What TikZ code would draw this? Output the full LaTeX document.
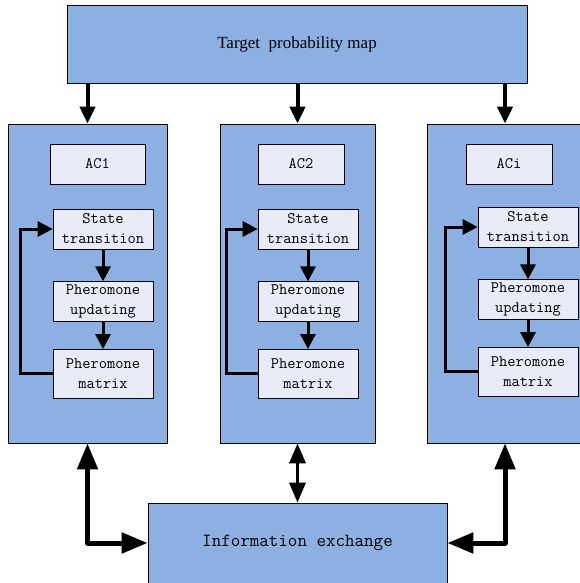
\documentclass[tikz,border=0pt]{standalone}
\usepackage{fontspec}
\setmainfont{Liberation Serif}
\usetikzlibrary{arrows.meta, positioning}

\definecolor{boxblue}{RGB}{141,176,227}
\definecolor{paleblue}{RGB}{231,236,248}

\begin{document}
\begin{tikzpicture}[
      x = 1pt, y = -1pt,           % one unit is one pixel of the layout
      line width = 0.7pt,
      node distance = 25pt         % distance between inner boxes
    ]

    \tikzstyle{Big}=[     % Defines style for the blue boxes
      draw, fill = boxblue,
      inner sep = 0pt
    ]

    \tikzstyle{Small}=[   % Defines style for the pale boxes
      draw, fill = paleblue,
      minimum width = 100pt, minimum height = 40pt,
      inner sep = 0pt, align = center,
      font = \ttfamily\fontsize{16}{20}\selectfont
    ]

    \tikzstyle{down}=[    % arrows from the map
      -{Triangle[length=17pt,width=15pt]}, line width = 4pt
    ]
    \tikzstyle{flow}=[    % arrows inside a column
      -{Triangle[length=15pt,width=15pt]}, line width = 3pt
    ]
    \tikzstyle{both}=[    % arrows to the exchange box
      {Triangle[length=26pt,width=20pt]}-{Triangle[length=26pt,width=20pt]},
      line width = 5pt
    ]

    \useasboundingbox (0,0) rectangle (580,583);

    % Definition of the nodes
    \node[Big, minimum width = 460pt, minimum height = 78pt,
      font = \fontsize{17}{20}\selectfont] (map) at (297,44)
      {\raisebox{-2pt}{Target\ \ probability map}};

    \node[Big, minimum width = 159pt, minimum height = 319pt] (col1) at (87.5,283.5) {};
    \node[Big, minimum width = 155pt, minimum height = 319pt] (col2) at (297.5,283.5) {};
    \node[Big, minimum width = 156pt, minimum height = 319pt] (col3) at (505,283.5) {};

    \node[Big, minimum width = 299pt, minimum height = 80pt,
      font = \ttfamily\fontsize{18.5}{22}\selectfont] (info) at (297.5,543)
      {Information exchange};

    % first column
    \node[Small, minimum width = 95pt] (ac1) at (97.5,164) {AC1};
    \node[Small] (st1) at (103,229) {State\\transition};
    \node[Small] (up1) [below=32pt of st1] {Pheromone\\updating};
    \node[Small, minimum height = 49pt] (mx1) [below=27pt of up1] {Pheromone\\matrix};

    % second column
    \node[Small, minimum width = 86pt] (ac2) at (301,164) {AC2};
    \node[Small] (st2) at (308,229) {State\\transition};
    \node[Small] (up2) [below=32pt of st2] {Pheromone\\updating};
    \node[Small, minimum height = 49pt] (mx2) [below=27pt of up2] {Pheromone\\matrix};

    % third column
    \node[Small, minimum width = 86pt] (aci) at (509,164) {ACi};
    \node[Small] (st3) at (528,227) {State\\transition};
    \node[Small] (up3) [below=32pt of st3] {Pheromone\\updating};
    \node[Small, minimum height = 49pt] (mx3) [below=27pt of up3] {Pheromone\\matrix};

    % Definition of the edges
    \draw[down] (col1.north |- map.south) -- (col1.north);
    \draw[down] (col2.north |- map.south) -- (col2.north);
    \draw[down] (col3.north |- map.south) -- (col3.north);

    \draw[flow] (st1) -- (up1);
    \draw[flow] (up1) -- (mx1);
    \draw[flow] (mx1.west) -- ++(-32,0) |- (st1.west);

    \draw[flow] (st2) -- (up2);
    \draw[flow] (up2) -- (mx2);
    \draw[flow] (mx2.west) -- ++(-31,0) |- (st2.west);

    \draw[flow] (st3) -- (up3);
    \draw[flow] (up3) -- (mx3);
    \draw[flow] (mx3.west) -- ++(-32,0) |- (st3.west);

    \draw[both, line join = round] (col1.south) |- (info.west);
    \draw[both, line width = 3.5pt,
      {Triangle[length=20pt,width=16pt]}-{Triangle[length=20pt,width=16pt]}]
      (col2.south) -- (info.north);
    \draw[both, line join = round] (col3.south) |- (info.east);

  \end{tikzpicture}
\end{document}
